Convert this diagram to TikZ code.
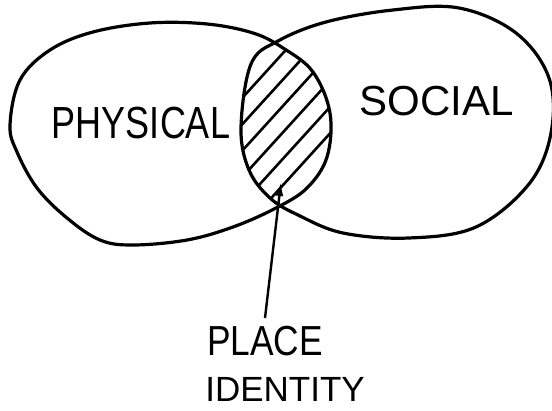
\documentclass[tikz,border=0pt]{standalone}
\usepackage{fontspec}
\setmainfont{Liberation Sans}
\usetikzlibrary{arrows.meta}
\tikzset{
  blob/.style={line width=3.2pt, line join=round},
  hatch/.style={line width=2.6pt, line cap=round},
  lbl/.style={inner sep=0pt, anchor=center},
  pointer/.style={line width=2.4pt, -{Latex[length=14pt,width=8pt,open]}},
}
\newcommand{\leftblob}{plot[smooth cycle, tension=0.6] coordinates {(10,125) (20,80) (50,50) (93,32) (150,23) (207,24) (253,33) (283,48) (313,72) (330,113) (327,157) (307,188) (276,208) (233,227) (187,240) (133,245) (100,240) (67,218) (37,188) (17,152)}}
\newcommand{\rightblob}{plot[smooth cycle, tension=0.6] coordinates {(251,64) (278,41) (326,22) (393,10) (459,8) (516,33) (549,78) (551,133) (529,184) (476,227) (409,238) (343,233) (298,215) (270,198) (249,170) (241,128)}}
\begin{document}
\begin{tikzpicture}[x=1pt,y=-1pt]
\useasboundingbox (0,0) rectangle (552,411);
\fill[white] (0,0) rectangle (552,411);
% hatching of the overlap
\begin{scope}
  \clip \leftblob;
  \clip \rightblob;
  \foreach \c in {104,128,152,176,200,224} {
    \draw[hatch] (\c,250) -- ++(200,-220);
  }
\end{scope}
\draw[blob] \leftblob;
\draw[blob] \rightblob;
% labels
\node[lbl] (phys) at (141,123) {\fontsize{45}{45}\selectfont\scalebox{0.8}[1]{PHYSICAL}};
\node[lbl] (soc) at (437,101) {\fontsize{42}{42}\selectfont SOCIAL};
\node[lbl] (place) at (265,341) {\fontsize{42}{42}\selectfont\scalebox{0.84}[1]{PLACE}};
\node[lbl] (ident) at (285,389) {\fontsize{35}{35}\selectfont IDENTITY};
\coordinate (tip) at (281,182);
\draw[pointer] (265,318) -- (tip);
\end{tikzpicture}
\end{document}
